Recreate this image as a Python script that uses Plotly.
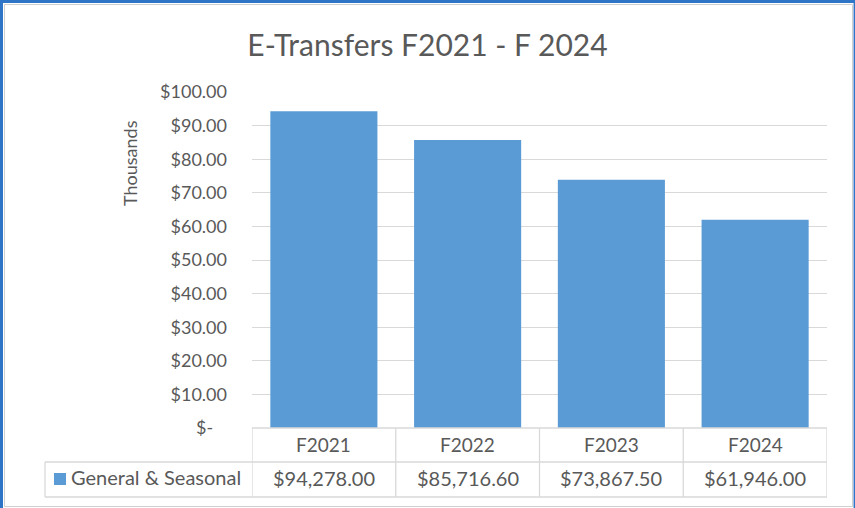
import plotly.graph_objects as go

categories = ["F2021", "F2022", "F2023", "F2024"]
values = [94278.00, 85716.60, 73867.50, 61946.00]
series_name = "General & Seasonal"
tick_vals = [0, 10, 20, 30, 40, 50, 60, 70, 80, 90, 100]
tick_text = ["$-\u00a0\u00a0\u00a0"] + [f"${v:.2f}" for v in tick_vals[1:]]
value_labels = [f"${v:,.2f}" for v in values]

W, H = 855, 508
L, R, T, B = 252, 827, 92, 428
PW, PH = R - L, B - T

def px_x(px):
    return (px - L) / PW

def px_y(py):
    return (B - py) / PH

FONT = "Lato, Carlito, Calibri, sans-serif"
GREY = "#595959"
BAR = "#5B9BD5"
LINE = "#D9D9D9"
BLUE = "#2E75C8"

fig = go.Figure()
fig.add_trace(go.Bar(
    x=list(range(len(categories))),
    y=[v / 1000 for v in values],
    marker=dict(color=BAR, line=dict(width=0)),
    width=0.745,
    name=series_name,
    hoverinfo="skip",
))

shapes = []
annotations = []

row1_bot, row2_bot = 462, 497
y_r1 = px_y(row1_bot)
y_r2 = px_y(row2_bot)
left_col = px_x(45)

shapes.append(dict(type="line", xref="paper", yref="paper", x0=0, x1=1, y0=0, y1=0,
                   line=dict(color=LINE, width=1.3)))
shapes.append(dict(type="line", xref="paper", yref="paper", x0=left_col, x1=1, y0=y_r1, y1=y_r1,
                   line=dict(color=LINE, width=1.3)))
shapes.append(dict(type="line", xref="paper", yref="paper", x0=left_col, x1=1, y0=y_r2, y1=y_r2,
                   line=dict(color=LINE, width=1.3)))
for i in range(len(categories) + 1):
    xb = i - 0.5
    shapes.append(dict(type="line", xref="x", yref="paper", x0=xb, x1=xb, y0=0, y1=y_r2,
                       line=dict(color=LINE, width=1.3)))
shapes.append(dict(type="line", xref="paper", yref="paper", x0=left_col, x1=left_col, y0=y_r1, y1=y_r2,
                   line=dict(color=LINE, width=1.3)))

shapes.append(dict(type="rect", xref="paper", yref="paper",
                   x0=px_x(54), x1=px_x(66), y0=px_y(485), y1=px_y(473),
                   fillcolor=BAR, line=dict(width=0)))

shapes.append(dict(type="rect", xref="paper", yref="paper",
                   x0=px_x(4.5), x1=px_x(852.5), y0=px_y(506.5), y1=px_y(4.5),
                   line=dict(color="#D0D0D0", width=1), fillcolor="rgba(0,0,0,0)"))
shapes.append(dict(type="line", xref="paper", yref="paper",
                   x0=px_x(0), x1=px_x(855), y0=px_y(1.5), y1=px_y(1.5),
                   line=dict(color=BLUE, width=3)))
shapes.append(dict(type="line", xref="paper", yref="paper",
                   x0=px_x(1.5), x1=px_x(1.5), y0=px_y(508), y1=px_y(0),
                   line=dict(color=BLUE, width=3)))
shapes.append(dict(type="line", xref="paper", yref="paper",
                   x0=px_x(854.3), x1=px_x(854.3), y0=px_y(508), y1=px_y(0),
                   line=dict(color=BLUE, width=1.5)))

HFS, VFS = 19, 20
for i, (c, lab) in enumerate(zip(categories, value_labels)):
    annotations.append(dict(x=i, y=px_y(444), xref="x", yref="paper", text=c,
                            showarrow=False, xanchor="center", yanchor="middle",
                            font=dict(family=FONT, size=HFS, color=GREY)))
    annotations.append(dict(x=i, y=px_y(478), xref="x", yref="paper", text=lab,
                            showarrow=False, xanchor="center", yanchor="middle",
                            font=dict(family=FONT, size=VFS, color=GREY)))
annotations.append(dict(x=px_x(69), y=px_y(477), xref="paper", yref="paper", text=series_name,
                        showarrow=False, xanchor="left", yanchor="middle",
                        font=dict(family=FONT, size=VFS, color=GREY)))
# y axis title placed like the original (upper part of the axis)
annotations.append(dict(x=px_x(130), y=px_y(163), xref="paper", yref="paper", text="Thousands",
                        showarrow=False, xanchor="center", yanchor="middle", textangle=-90,
                        font=dict(family=FONT, size=18, color=GREY)))

fig.update_layout(
    width=W, height=H,
    margin=dict(l=L, r=W - R, t=T, b=H - B, pad=0),
    paper_bgcolor="white", plot_bgcolor="white",
    showlegend=False,
    title=dict(text="E-Transfers F2021 - F 2024", x=0.5, xref="container", xanchor="center",
               y=1 - 45 / H, yref="container", yanchor="middle",
               font=dict(family=FONT, size=30, color=GREY)),
    xaxis=dict(range=[-0.5, len(categories) - 0.5], showticklabels=False, showgrid=False,
               zeroline=False, showline=False, ticks="", fixedrange=True),
    yaxis=dict(range=[0, 100], tickvals=tick_vals, ticktext=tick_text,
               showgrid=True, gridcolor=LINE, gridwidth=1.3, zeroline=False, showline=False,
               ticks="", ticklabelstandoff=24,
               tickfont=dict(family=FONT, size=18, color=GREY)),
    shapes=shapes,
    annotations=annotations,
    bargap=0.255,
)

fig.write_html("out.html", config={"displayModeBar": False},
               post_script="document.body.style.margin='0';document.body.style.overflow='hidden';")
